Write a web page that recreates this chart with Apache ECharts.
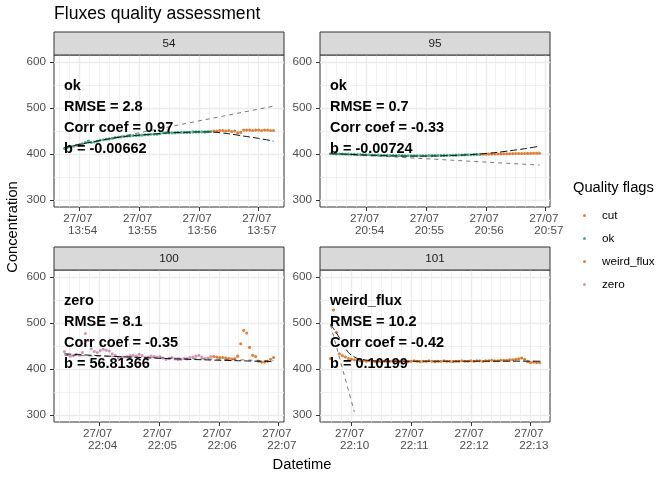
<!DOCTYPE html>
<html>
<head>
<meta charset="utf-8">
<script src="https://cdn.jsdelivr.net/npm/echarts@6/dist/echarts.min.js"></script>
<style>
  html, body { margin: 0; padding: 0; background: #fff; }
  #chart { width: 672px; height: 480px; }
</style>
</head>
<body>
<div id="chart"></div>
<script>
// sampling step (s) used when reading the points off the plot
var step = 3;
var dateLabel = '27/07';

var flags = ['cut', 'ok', 'weird_flux', 'zero'];
var flagColors = { cut: '#D95F02', ok: '#1B9E77', weird_flux: '#D55E00', zero: '#CC79A7' };
var yTicks = [300, 400, 500, 600];
var yMinorTicks = [350, 450, 550];

// ---- panel 54
var ticks54 = ['13:54', '13:55', '13:56', '13:57'];
var ok54Start = '13:53:45';
var ok54 = [412,414,416,417,419,420,422,425,428,425,426,428,430,431,432,433,434,436,437,437,
  438,439,439,440,440,441,441,442,442,443,443,443,444,446,446,446,446,446,447,447,
  447,447,447,448,448,448,448,448,449,449];
var cut54Start = '13:56:15';
var cut54 = [450,450,451,451,450,451,449,450,446,447,452,452,452,451,452,452,451,452,452,451,451];
var expFit54Sec = [0,15,30,45,60,75,90,105,120,135,150,165,180,195,210];
var expFit54 = [414,421,427,433,438,441,443.5,446,447,448,447.5,444,439,434,428];
var linFit54Sec = [0, 210];
var linFit54 = [414, 504];
var labels54 = ['ok', 'RMSE = 2.8', 'Corr coef = 0.97', 'b = -0.00662'];

// ---- panel 95
var ticks95 = ['20:54', '20:55', '20:56', '20:57'];
var ok95Start = '20:53:24';
var ok95 = [400.6,400.5,400.3,400.2,400.0,399.8,399.7,399.4,399.2,399.1,398.8,398.6,398.4,398.3,398.0,
  397.8,397.6,397.5,397.2,397.0,396.9,396.8,396.7,396.6,396.5,396.4,396.4,396.3,396.3,396.3,
  396.3,396.4,396.4,396.5,396.6,396.7,396.8,396.9,397.0,397.2,397.3,397.5,397.6,397.8,398.0,
  398.2,398.4,398.6,398.8,399.0,399.2];
var cut95Start = '20:55:57';
var cut95 = [399.4,399.6,399.8,399.9,400.0,400.2,400.3,400.5,400.6,400.7,400.9,401.0,401.1,401.2,
  401.3,401.4,401.5,401.6,401.7,401.8];
var expFit95Sec = [0,15,30,45,60,75,90,105,120,135,150,165,180,195,210];
var expFit95 = [400.8,399.6,398.3,397.1,396.1,395.6,395.5,395.8,396.6,398.0,400.2,403,407,411.5,417];
var linFit95Sec = [0, 210];
var linFit95 = [401.3, 376];
var labels95 = ['ok', 'RMSE = 0.7', 'Corr coef = -0.33', 'b = -0.00724'];

// ---- panel 100
var ticks100 = ['22:04', '22:05', '22:06', '22:07'];
var zero100Start = '22:03:25';
var zero100 = [438,431,428,429,432,430,436,477,462,444,438,436,440,443,441,439,433,430,424,423,
  426,427,429,430,428,432,429,425,426,428,427,426,427,424,421,423,425,422,420,421,
  423,422,425,426,428,430,426,423,424,427];
var cut100Start = '22:05:55';
var cut100 = [427,426,425,425,424,423,422,423,428,455,484,478,447,430,427,417,415,415,417,421,425];
var expFit100Sec = [0,35,70,105,140,175,210];
var expFit100 = [433,429,425.5,422.5,420,418,416];
var linFit100Sec = [0, 210];
var linFit100 = [430, 418];
var labels100 = ['zero', 'RMSE = 8.1', 'Corr coef = -0.35', 'b = 56.81366'];

// ---- panel 101
var ticks101 = ['22:10', '22:11', '22:12', '22:13'];
var weird101Start = '22:09:39';
var weird101 = [423,528,480,433,429,426,423,421,420,419,418,418,417,418,417,416,417,416,
  417,416,417,418,417,416,417,417,416,417,418,417,416,417,417,418,417,416,417,417,
  418,417,417,416,417,417,418,417,417,418,417,418,418,417,418,418,419,418,418,419,
  419,419,420,420,421,422,424,421,416,414,415,414,414];
var expFit101Sec = [0,3,6,9,12,15,18,21,26,31,41,61,211];
var expFit101 = [497,488,478,468,456,445,436,430,424,421,418,417,417];
var linFit101Sec = [0, 24];
var linFit101 = [496, 307];
var labels101 = ['weird_flux', 'RMSE = 10.2', 'Corr coef = -0.42', 'b = 0.10199'];

function hms(s) {
  var p = s.split(':').map(Number);
  return p[0] * 3600 + p[1] * 60 + (p[2] || 0);
}
function pts(start, vals) {
  var t0 = hms(start);
  return vals.map(function (v, i) { return [t0 + i * step, v]; });
}
function fitPts(start, secs, vals) {
  var t0 = hms(start);
  return vals.map(function (v, i) { return [t0 + secs[i], v]; });
}
function pad(n) { return (n < 10 ? '0' : '') + n; }
function fmtTime(v) {
  var h = Math.floor(v / 3600), m = Math.floor((v % 3600) / 60);
  return dateLabel + ' \n  ' + pad(h) + ':' + pad(m);
}

var panels = [
  { name: '54', left: 54, top: 55, ticks: ticks54, labels: labels54,
    groups: [['ok', pts(ok54Start, ok54)], ['cut', pts(cut54Start, cut54)]],
    exp: fitPts(ok54Start, expFit54Sec, expFit54), lin: fitPts(ok54Start, linFit54Sec, linFit54) },
  { name: '95', left: 320, top: 55, ticks: ticks95, labels: labels95,
    groups: [['ok', pts(ok95Start, ok95)], ['cut', pts(cut95Start, cut95)]],
    exp: fitPts(ok95Start, expFit95Sec, expFit95), lin: fitPts(ok95Start, linFit95Sec, linFit95) },
  { name: '100', left: 54, top: 270, ticks: ticks100, labels: labels100,
    groups: [['zero', pts(zero100Start, zero100)], ['cut', pts(cut100Start, cut100)]],
    exp: fitPts(zero100Start, expFit100Sec, expFit100), lin: fitPts(zero100Start, linFit100Sec, linFit100) },
  { name: '101', left: 320, top: 270, ticks: ticks101, labels: labels101,
    groups: [['weird_flux', pts(weird101Start, weird101)]],
    exp: fitPts(weird101Start, expFit101Sec, expFit101), lin: fitPts(weird101Start, linFit101Sec, linFit101) }
];

var font = 'Liberation Sans, Arial, sans-serif';
var panelW = 230, panelH = 152, stripH = 23;
var grids = [], xAxes = [], yAxes = [], series = [], graphics = [];

panels.forEach(function (p, i) {
  grids.push({ left: p.left, top: p.top, width: panelW, height: panelH,
    show: true, borderColor: '#333', borderWidth: 1, backgroundColor: '#fff' });

  // x range: data range expanded by 5% on each side
  var lo = Infinity, hi = -Infinity;
  p.groups.forEach(function (g) {
    g[1].forEach(function (d) { lo = Math.min(lo, d[0]); hi = Math.max(hi, d[0]); });
  });
  var pad5 = (hi - lo) * 0.05;
  var xmin = lo - pad5, xmax = hi + pad5;
  var major = p.ticks.map(hms);
  var minor = [];
  for (var t = Math.ceil(xmin / 10) * 10; t <= xmax; t += 10) minor.push(t);

  xAxes.push({
    gridIndex: i, type: 'value', min: xmin, max: xmax,
    axisLine: { show: false, onZero: false },
    axisTick: { customValues: major, length: 4, lineStyle: { color: '#333' } },
    axisLabel: { customValues: major, formatter: fmtTime, color: '#4D4D4D',
      fontSize: 11.7, lineHeight: 12, margin: 6, fontFamily: font },
    splitLine: { show: true, lineStyle: { color: '#EBEBEB', width: 1.4 } }
  });
  xAxes.push({
    gridIndex: i, type: 'value', min: xmin, max: xmax, position: 'bottom',
    axisLine: { show: false, onZero: false },
    axisTick: { show: false, customValues: minor },
    axisLabel: { show: false },
    splitLine: { show: true, lineStyle: { color: '#EBEBEB', width: 0.7 } }
  });
  yAxes.push({
    gridIndex: i, type: 'value', min: 285, max: 615,
    axisLine: { show: false, onZero: false },
    axisTick: { customValues: yTicks, length: 4, lineStyle: { color: '#333' } },
    axisLabel: { customValues: yTicks, color: '#4D4D4D', fontSize: 11.7, margin: 8, fontFamily: font },
    splitLine: { show: true, lineStyle: { color: '#EBEBEB', width: 1.4 } }
  });
  yAxes.push({
    gridIndex: i, type: 'value', min: 285, max: 615, position: 'left',
    axisLine: { show: false, onZero: false },
    axisTick: { show: false, customValues: yMinorTicks },
    axisLabel: { show: false },
    splitLine: { show: true, lineStyle: { color: '#EBEBEB', width: 0.7 } }
  });

  p.groups.forEach(function (g) {
    series.push({
      type: 'scatter', name: g[0], xAxisIndex: 2 * i, yAxisIndex: 2 * i,
      data: g[1], symbolSize: 3.1, itemStyle: { color: flagColors[g[0]] },
      silent: true, z: 2
    });
  });
  series.push({
    type: 'line', name: 'linear fit', xAxisIndex: 2 * i, yAxisIndex: 2 * i,
    data: p.lin, showSymbol: false, silent: true, z: 3,
    lineStyle: { color: '#555', width: 0.8, type: [4, 4] }
  });
  series.push({
    type: 'line', name: 'exp fit', xAxisIndex: 2 * i, yAxisIndex: 2 * i,
    data: p.exp, showSymbol: false, silent: true, smooth: 0.3, z: 3,
    lineStyle: { color: '#111', width: 1, type: [7, 3] }
  });

  // facet strip
  graphics.push({ type: 'rect', shape: { x: p.left, y: p.top - stripH, width: panelW, height: stripH },
    style: { fill: '#D9D9D9', stroke: '#333', lineWidth: 1 }, z: 10 });
  graphics.push({ type: 'text', x: p.left + panelW / 2, y: p.top - stripH / 2 + 0.5, z: 11,
    style: { text: p.name, align: 'center', verticalAlign: 'middle', fill: '#1A1A1A',
      font: '11.7px ' + font } });

  // annotation
  p.labels.forEach(function (s, k) {
    graphics.push({ type: 'text', x: p.left + 10, y: p.top + 31 + 21 * k, z: 12,
      style: { text: s, align: 'left', verticalAlign: 'middle', fill: '#000',
        font: 'bold 14.5px ' + font } });
  });
});

graphics.push({ type: 'text', x: 13, y: 227, rotation: Math.PI / 2, z: 11,
  style: { text: 'Concentration', align: 'center', verticalAlign: 'middle', fill: '#000',
    font: '14.7px ' + font } });
graphics.push({ type: 'text', x: 302, y: 465, z: 11,
  style: { text: 'Datetime', align: 'center', verticalAlign: 'middle', fill: '#000',
    font: '14.7px ' + font } });
graphics.push({ type: 'text', x: 573, y: 188, z: 11,
  style: { text: 'Quality flags', align: 'left', verticalAlign: 'middle', fill: '#000',
    font: '14.7px ' + font } });

var chart = echarts.init(document.getElementById('chart'), null, { renderer: 'canvas' });
chart.setOption({
  animation: false,
  backgroundColor: '#fff',
  title: {
    text: 'Fluxes quality assessment', left: 54, top: 3, padding: 0,
    textStyle: { fontSize: 17.6, fontWeight: 'normal', color: '#000', lineHeight: 22, fontFamily: font }
  },
  legend: {
    data: flags, orient: 'vertical', left: 583, top: 204, padding: 0,
    icon: 'circle', itemWidth: 3, itemHeight: 3, itemGap: 0, selectedMode: false,
    textStyle: { fontSize: 11.7, color: '#000', lineHeight: 23, padding: [0, 0, 0, 11], fontFamily: font }
  },
  grid: grids,
  xAxis: xAxes,
  yAxis: yAxes,
  series: series,
  graphic: graphics
});
</script>
</body>
</html>
